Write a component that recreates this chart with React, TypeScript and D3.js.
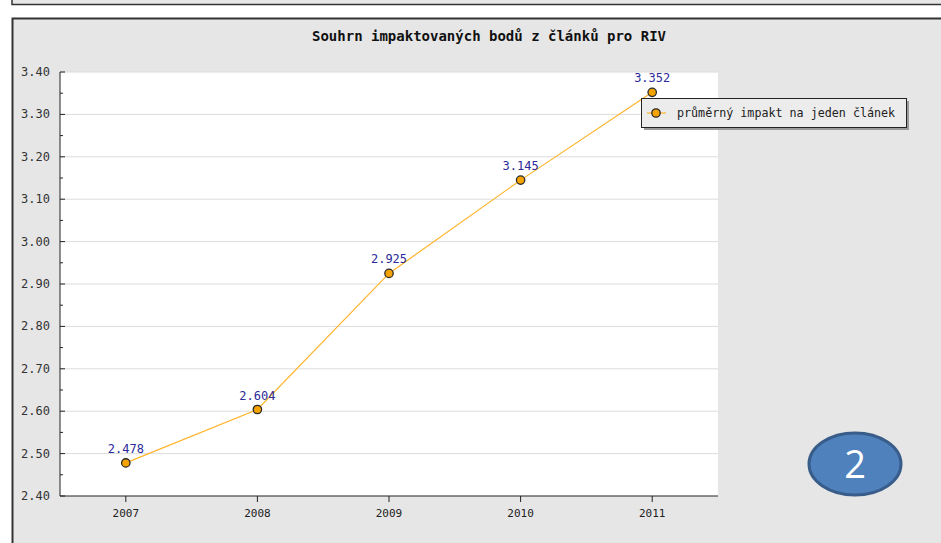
import React from 'react';
import * as d3 from 'd3';

const years = ['2007', '2008', '2009', '2010', '2011'];
const impact = [2.478, 2.604, 2.925, 3.145, 3.352];
const yDomain = [2.4, 3.4];
const title = 'Souhrn impaktovaných bodů z článků pro RIV';
const seriesName = 'průměrný impakt na jeden článek';
const badge = '2';

const W = 941;
const H = 543;
const plot = { left: 60, right: 718, top: 72, bottom: 496 };
const mono = '"DejaVu Sans Mono", "Liberation Mono", monospace';

const App = () => {
  const x = d3.scalePoint().domain(years).range([plot.left, plot.right]).padding(0.5);
  const y = d3.scaleLinear().domain(yDomain).range([plot.bottom, plot.top]);
  const major = y.ticks(10);
  const minor = y.ticks(20).filter(t => !major.some(m => Math.abs(m - t) < 1e-9));
  const fmt = d3.format('.2f');
  const pts = years.map((yr, i) => [x(yr), y(impact[i])]);
  const line = d3.line()(pts);

  return (
    <svg width={W} height={H} style={{ position: 'absolute', left: 0, top: 0 }}>
      {/* bits of the page around the chart */}
      <rect x={0} y={0} width={W} height={H} fill="#fff" />
      <rect x={12} y={-5} width={W} height={9.5} fill="#e6e6e6" stroke="#333" strokeWidth={1.5} />
      <rect x={12.5} y={18.5} width={W} height={H} fill="#e6e6e6" stroke="#333" strokeWidth={2} />

      <text x={489} y={41} textAnchor="middle" fontFamily={mono} fontWeight="bold" fontSize={14} fill="#111">
        {title}
      </text>

      <rect x={plot.left} y={plot.top} width={plot.right - plot.left} height={plot.bottom - plot.top} fill="#fff" />

      {major.map(t => (
        <g key={'g' + t}>
          {t > yDomain[0] + 1e-9 && (
            <line x1={plot.left} x2={plot.right} y1={y(t)} y2={y(t)} stroke="#dcdcdc" strokeWidth={1} />
          )}
          <line x1={plot.left} x2={plot.left + 5} y1={y(t)} y2={y(t)} stroke="#222" />
          <text x={50} y={y(t) + 4} textAnchor="end" fontFamily={mono} fontSize={12} fill="#333">
            {fmt(t)}
          </text>
        </g>
      ))}
      {minor.map(t => (
        <line key={'m' + t} x1={plot.left} x2={plot.left + 3} y1={y(t)} y2={y(t)} stroke="#222" />
      ))}

      <line x1={plot.left} x2={plot.left} y1={plot.top} y2={plot.bottom} stroke="#222" />
      <line x1={plot.left} x2={plot.right} y1={plot.bottom} y2={plot.bottom} stroke="#222" />

      {years.map(yr => (
        <g key={yr}>
          <line x1={x(yr)} x2={x(yr)} y1={plot.bottom} y2={plot.bottom + 6} stroke="#222" />
          <text x={x(yr)} y={plot.bottom + 21} textAnchor="middle" fontFamily={mono} fontSize={11} fill="#222">
            {yr}
          </text>
        </g>
      ))}

      <path d={line} fill="none" stroke="#ffb42a" strokeWidth={1.2} />
      {pts.map(([px, py], i) => (
        <g key={'p' + i}>
          <circle cx={px} cy={py} r={4.2} fill="#f5a300" stroke="#2a2a2a" strokeWidth={1.3} />
          <text x={px} y={py - 10} textAnchor="middle" fontFamily={mono} fontSize={12} fill="#2b2b9a">
            {d3.format('.3f')(impact[i])}
          </text>
        </g>
      ))}

      {/* legend */}
      <rect x={644} y={101} width={265} height={29} fill="#9a9a9a" />
      <rect x={641.5} y={98.5} width={265} height={29} fill="#ececec" stroke="#222" strokeWidth={1} />
      <line x1={647} x2={666} y1={113} y2={113} stroke="#ffb42a" strokeWidth={1.2} />
      <circle cx={656} cy={113} r={4.2} fill="#f5a300" stroke="#2a2a2a" strokeWidth={1.3} />
      <text x={677} y={117} fontFamily={mono} fontSize={11.7} fill="#222">
        {seriesName}
      </text>

      {/* annotation badge */}
      <ellipse cx={855} cy={464} rx={46} ry={31} fill="#4f81bd" stroke="#385d8a" strokeWidth={3} />
      <text x={855} y={478} textAnchor="middle" fontFamily='"Open Sans", "Liberation Sans", sans-serif' fontSize={38} fill="#fff">
        {badge}
      </text>
    </svg>
  );
};

export default App;
